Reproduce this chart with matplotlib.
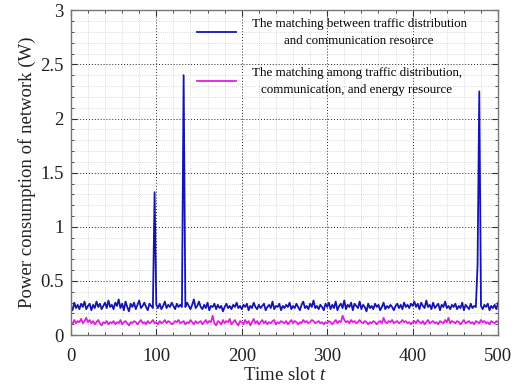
import numpy as np
import matplotlib
matplotlib.use("Agg")
import matplotlib.pyplot as plt
from matplotlib.ticker import MultipleLocator

plt.rcParams["font.family"] = ["Liberation Serif", "DejaVu Serif"]
plt.rcParams["mathtext.fontset"] = "custom"
plt.rcParams["mathtext.it"] = "Liberation Serif:italic"

# time slots 0..500, sampled every 2 slots
time_slots = np.arange(0, 501, 2)

# power of the traffic/communication matching (x0.01 W)
blue_centi = [
    27, 23, 30, 25, 28, 24, 29, 26, 31, 24, 27, 29, 23, 28, 25, 31, 26, 29, 24, 27, 30, 25, 32, 26, 28,
    24, 30, 27, 33, 25, 29, 23, 31, 26, 22, 29, 26, 30, 24, 28, 32, 25, 27, 30, 26, 23, 29, 27, 25, 132,
    28, 25, 29, 24, 27, 31, 25, 28, 26, 30, 27, 24, 29, 26, 28, 26, 240, 26, 30, 27, 24, 28, 33, 25, 27,
    31, 26, 24, 28, 25, 30, 23, 27, 26, 29, 24, 28, 25, 27, 22, 26, 29, 25, 27, 24, 28, 26, 30, 25, 27,
    24, 28, 26, 29, 23, 27, 25, 30, 26, 24, 28, 25, 27, 29, 23, 26, 28, 25, 31, 24, 27, 26, 29, 23, 27,
    25, 28, 26, 30, 24, 27, 25, 29, 26, 23, 28, 31, 25, 27, 24, 29, 26, 32, 25, 27, 24, 28, 26, 23, 29,
    26, 30, 24, 28, 25, 31, 23, 27, 29, 25, 32, 24, 28, 26, 30, 23, 29, 27, 25, 31, 24, 28, 26, 22, 29,
    25, 27, 24, 29, 26, 28, 23, 26, 30, 24, 27, 25, 28, 26, 23, 27, 29, 25, 28, 24, 30, 26, 28, 25, 29,
    27, 31, 26, 29, 24, 30, 27, 25, 32, 26, 28, 24, 30, 25, 27, 29, 23, 28, 26, 31, 25, 27, 24, 28, 26,
    29, 24, 27, 25, 30, 23, 28, 26, 24, 29, 25, 27, 26, 65, 225, 27, 24, 28, 26, 29, 23, 27, 25, 28, 24, 30,
]

# power of the traffic/communication/energy matching (x0.01 W)
magenta_centi = [
    12, 10, 14, 11, 13, 12, 15, 11, 13, 16, 12, 14, 11, 13, 10, 12, 14, 11, 9, 12, 11, 13, 10, 12, 11,
    13, 10, 12, 11, 14, 10, 12, 13, 11, 9, 12, 11, 13, 12, 10, 12, 14, 11, 12, 10, 13, 11, 12, 14, 11,
    12, 10, 13, 11, 12, 14, 11, 13, 12, 10, 11, 13, 12, 14, 11, 12, 13, 10, 12, 11, 14, 12, 10, 13, 11,
    12, 13, 10, 12, 14, 11, 13, 12, 18, 11, 9, 13, 12, 10, 14, 11, 13, 12, 15, 10, 12, 14, 11, 9, 13,
    12, 10, 14, 11, 13, 9, 12, 15, 11, 13, 10, 12, 14, 11, 13, 10, 12, 11, 13, 14, 10, 12, 11, 13, 12,
    11, 13, 10, 12, 14, 11, 13, 12, 10, 12, 11, 14, 12, 13, 11, 12, 14, 13, 11, 12, 13, 11, 12, 10, 12,
    11, 13, 12, 10, 12, 14, 11, 13, 12, 18, 14, 12, 13, 11, 14, 12, 13, 11, 12, 14, 12, 11, 13, 12, 10,
    12, 11, 13, 12, 10, 12, 13, 11, 16, 12, 11, 13, 12, 14, 11, 12, 13, 11, 12, 14, 12, 13, 11, 12, 10,
    12, 13, 11, 14, 12, 11, 13, 10, 12, 14, 11, 12, 13, 11, 12, 10, 13, 12, 11, 14, 12, 16, 11, 13, 12,
    11, 13, 12, 10, 12, 14, 11, 12, 13, 11, 12, 10, 13, 12, 11, 14, 12, 13, 11, 12, 10, 13, 12, 11, 13, 12,
]

blue_power = np.array(blue_centi) / 100.0
magenta_power = np.array(magenta_centi) / 100.0

label_blue = "The matching between traffic distribution\nand communication resource"
label_magenta = "The matching among traffic distribution,\ncommunication, and energy resource"

fig = plt.figure(figsize=(5.21, 3.92), dpi=100)
ax = fig.add_axes([0.136, 0.145, 0.82, 0.829])

ax.plot(time_slots, blue_power, color="#1414b4", lw=1.3, label=label_blue)
ax.plot(time_slots, magenta_power, color="#e01ee0", lw=1.3, label=label_magenta)

ax.set_xlim(0, 500)
ax.set_ylim(0, 3)
ax.xaxis.set_major_locator(MultipleLocator(100))
ax.xaxis.set_minor_locator(MultipleLocator(20))
ax.yaxis.set_major_locator(MultipleLocator(0.5))
ax.yaxis.set_minor_locator(MultipleLocator(0.1))
ax.set_yticks([0, 0.5, 1, 1.5, 2, 2.5, 3], ["0", "0.5", "1", "1.5", "2", "2.5", "3"])

ax.grid(which="major", linestyle=(0, (1, 2)), color="#222222", lw=0.7)
ax.grid(which="minor", linestyle=(0, (1, 2)), color="#bbbbbb", lw=0.5)
ax.tick_params(which="both", direction="in", top=True, right=True, colors="#333333",
               labelcolor="#222222", labelsize=13.5)
ax.tick_params(which="major", length=4, pad=5)
ax.tick_params(axis="x", which="major", pad=9)
ax.tick_params(which="minor", length=2)
for sp in ax.spines.values():
    sp.set_color("#777777")
    sp.set_linewidth(1.0)

ax.set_xlabel("Time slot $t$", fontsize=13.5, labelpad=2, color="#222222")
ax.set_ylabel("Power consumption of network (W)", fontsize=13.5, labelpad=3, color="#222222")

leg = ax.legend(loc="upper left", bbox_to_anchor=(0.295, 0.975), frameon=False,
                borderaxespad=0, borderpad=0, fontsize=9.4, handlelength=3.0,
                labelspacing=1.55, handletextpad=1.2)
for txt in leg.get_texts():
    txt.set_multialignment("center")
    txt.set_linespacing(1.5)

fig.savefig("out.png", dpi=100)
